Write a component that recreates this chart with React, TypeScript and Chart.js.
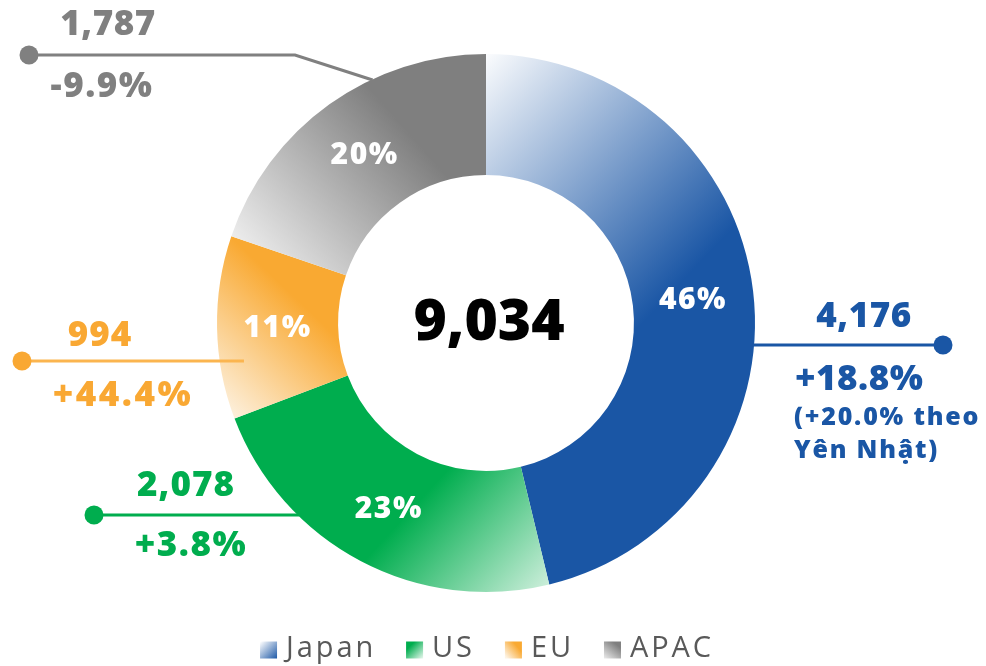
import React, { useEffect, useRef } from "react";
import { Chart, registerables } from "chart.js";

Chart.register(...registerables);

const categories = ["Japan", "US", "EU", "APAC"];
const revenue = [4176, 2078, 994, 1787];
const growth = ["+18.8%", "+3.8%", "+44.4%", "-9.9%"];
const valueLabels = ["4,176", "2,078", "994", "1,787"];
const totalLabel = "9,034";
const japanNote = ["(+20.0% theo", "Yên Nhật)"];

const baseColors = ["#1a56a5", "#00ad4e", "#f9a932", "#808080"];
const textColors = ["#1a56a5", "#00ad4e", "#f9a833", "#808080"];
const lineColors = ["#1a56a5", "#00ad4e", "#fbb54f", "#808080"];

// gradient specs, relative to centre in units of outer radius: [x0,y0,x1,y1,c0,c1]
const gradSpecs: [number, number, number, number, string, string][] = [
  [-0.02, -1.01, 0.8, -0.23, "#ffffff", "#1a56a5"],
  [-0.21, 0.62, 0.28, 1.07, "#00ad4e", "#eef9f2"],
  [-0.97, 0.36, -0.62, -0.01, "#fdf4e6", "#f9a932"],
  [-0.93, -0.29, -0.36, -0.79, "#eeeeee", "#7f7f7f"],
];

const FONT = "'Open Sans', 'DejaVu Sans', sans-serif";

function drawText(
  ctx: CanvasRenderingContext2D,
  text: string,
  x: number,
  y: number,
  font: string,
  color: string,
  align: CanvasTextAlign,
  spacing = 0
) {
  ctx.save();
  ctx.font = font;
  ctx.fillStyle = color;
  (ctx as any).letterSpacing = spacing + "px";
  ctx.textAlign = align;
  ctx.textBaseline = "middle";
  ctx.fillText(text, x, y);
  ctx.restore();
}

const overlayPlugin = {
  id: "overlay",
  afterDatasetsDraw(chart: any) {
    const ctx: CanvasRenderingContext2D = chart.ctx;
    const meta = chart.getDatasetMeta(0);
    const a0 = meta.data[0];
    const cx = a0.x;
    const cy = a0.y;
    const R = a0.outerRadius;
    const total = revenue.reduce((s, v) => s + v, 0);

    // percentage labels inside segments
    meta.data.forEach((arc: any, i: number) => {
      const p = arc.getCenterPoint();
      const pct = Math.round((revenue[i] / total) * 100) + "%";
      drawText(ctx, pct, p.x, p.y + 2, `800 30px ${FONT}`, "#ffffff", "center", 1.5);
    });

    // centre total
    drawText(ctx, totalLabel, cx + 3, cy + 1, `800 57px ${FONT}`, "#000000", "center", 0);

    const ringX = (y: number, side: number, r = R) =>
      cx + side * Math.sqrt(Math.max(0, r * r - (y - cy) * (y - cy)));

    const dot = (x: number, y: number, c: string) => {
      ctx.save();
      ctx.fillStyle = c;
      ctx.beginPath();
      ctx.arc(x, y, 9.5, 0, Math.PI * 2);
      ctx.fill();
      ctx.restore();
    };
    const line = (pts: number[][], c: string) => {
      ctx.save();
      ctx.strokeStyle = c;
      ctx.lineWidth = 3;
      ctx.beginPath();
      ctx.moveTo(pts[0][0], pts[0][1]);
      for (let k = 1; k < pts.length; k++) ctx.lineTo(pts[k][0], pts[k][1]);
      ctx.stroke();
      ctx.restore();
    };
    const big = `800 35px ${FONT}`;
    const small = `800 25px ${FONT}`;

    // Japan (right)
    {
      const y = cy + 22;
      line([[ringX(y, 1) - 2, y], [943, y]], lineColors[0]);
      dot(943, y, lineColors[0]);
      drawText(ctx, valueLabels[0], 864, 317, big, textColors[0], "center", 0.5);
      drawText(ctx, growth[0], 795, 380, big, textColors[0], "left", 0.5);
      drawText(ctx, japanNote[0], 794, 418, small, textColors[0], "left", 1.8);
      drawText(ctx, japanNote[1], 794, 451, small, textColors[0], "left", 1.8);
    }
    // US
    {
      const y = 515;
      line([[94, y], [ringX(y, -1) + 2, y]], lineColors[1]);
      dot(94, y, lineColors[1]);
      drawText(ctx, valueLabels[1], 186, 486, big, textColors[1], "center", 1);
      drawText(ctx, growth[1], 191, 546, big, textColors[1], "center", 1.5);
    }
    // EU
    {
      const y = 361;
      line([[22, y], [ringX(y, -1, R - 24), y]], lineColors[2]);
      dot(22, y, textColors[2]);
      drawText(ctx, valueLabels[2], 100, 336, big, textColors[2], "center", 1);
      drawText(ctx, growth[2], 123, 396, big, textColors[2], "center", 2.5);
    }
    // APAC
    {
      const y = 55;
      const endY = 80;
      line([[29, y], [295, y], [ringX(endY, -1) + 2, endY]], lineColors[3]);
      dot(29, y, lineColors[3]);
      drawText(ctx, valueLabels[3], 108, 25, big, textColors[3], "center", 0.5);
      drawText(ctx, growth[3], 102, 87, big, textColors[3], "center", 1.5);
    }

    // legend
    {
      ctx.save();
      const lf = `400 29px ${FONT}`;
      const ls = 2.9;
      ctx.font = lf;
      (ctx as any).letterSpacing = ls + "px";
      const sq = 17;
      const gapText = 9;
      const gapItem = 30;
      const widths = categories.map((c) => ctx.measureText(c).width);
      const totalW =
        widths.reduce((s, w) => s + w + sq + gapText, 0) + gapItem * (categories.length - 1);
      let x = 487 - totalW / 2;
      const yc = 650;
      ctx.restore();
      categories.forEach((c, i) => {
        const s = gradSpecs[i];
        let g: CanvasGradient;
        if (i === 0) g = ctx.createLinearGradient(x, yc - 8, x + sq, yc + 9);
        else if (i === 1) g = ctx.createLinearGradient(x + 4, yc - 4, x + sq, yc + 9);
        else if (i === 2) g = ctx.createLinearGradient(x, yc + 6, x + sq * 0.7, yc - 4);
        else g = ctx.createLinearGradient(x, yc + 9, x + sq * 0.7, yc - 6);
        g.addColorStop(0, s[4]);
        g.addColorStop(1, s[5]);
        ctx.fillStyle = g;
        ctx.fillRect(x, yc - 8.5, sq, sq);
        drawText(ctx, c, x + sq + gapText, yc - 1, lf, "#595959", "left", ls);
        x += sq + gapText + widths[i] + gapItem;
      });
    }
  },
};

export default function App() {
  const ref = useRef<HTMLCanvasElement | null>(null);
  useEffect(() => {
    const canvas = ref.current!;
    const chart = new Chart(canvas, {
      type: "doughnut",
      data: {
        labels: categories,
        datasets: [
          {
            data: revenue,
            borderWidth: 0,
            backgroundColor: (c: any) => {
              const ch = c.chart;
              const a = ch.chartArea;
              const i = c.dataIndex ?? 0;
              if (!a) return baseColors[i];
              const cx = (a.left + a.right) / 2;
              const cy = (a.top + a.bottom) / 2;
              const R = Math.min(a.right - a.left, a.bottom - a.top) / 2;
              const s = gradSpecs[i];
              const g = ch.ctx.createLinearGradient(cx + s[0] * R, cy + s[1] * R, cx + s[2] * R, cy + s[3] * R);
              g.addColorStop(0, s[4]);
              g.addColorStop(1, s[5]);
              return g;
            },
          },
        ],
      },
      options: {
        animation: false,
        responsive: true,
        maintainAspectRatio: false,
        cutout: "55%",
        layout: { padding: { top: 54, bottom: 74, left: 0, right: 14 } },
        plugins: { legend: { display: false }, tooltip: { enabled: false } },
      },
      plugins: [overlayPlugin],
    } as any);
    return () => chart.destroy();
  }, []);
  return (
    <div style={{ position: "absolute", left: 0, top: 0, width: 986, height: 666, background: "#ffffff" }}>
      <canvas ref={ref} />
    </div>
  );
}
